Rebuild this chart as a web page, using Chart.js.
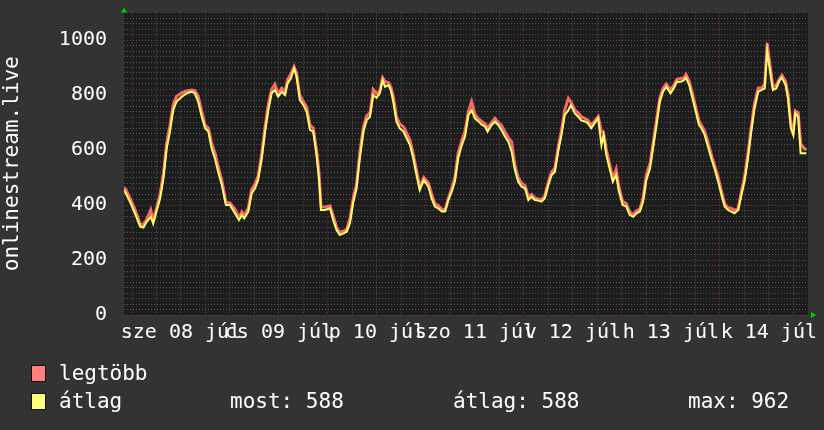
<!DOCTYPE html>
<html>
<head>
<meta charset="utf-8">
<script src="https://cdn.jsdelivr.net/npm/chart.js@4"></script>
<style>
body { margin: 0; background: #333333; }
#wrap { position: relative; width: 824px; height: 430px; background: #333333; font-family: 'DejaVu Sans Mono', monospace; color: #ffffff; }
#c { position: absolute; left: 0; top: 0; }
.leg { position: absolute; font-size: 21px; line-height: 21px; white-space: pre; }
.sw { position: absolute; width: 13px; height: 15px; border: 1px solid #111; }
</style>
</head>
<body>
<div id="wrap">
  <canvas id="c" width="824" height="430"></canvas>
  <div class="sw" style="left:31px;top:365px;background:#ff7f7f"></div>
  <div class="leg" style="left:59px;top:363px" id="l1"></div>
  <div class="sw" style="left:31px;top:393px;background:#ffff7f"></div>
  <div class="leg" style="left:59px;top:391px" id="l2"></div>
  <div class="leg" style="left:230px;top:391px" id="l3"></div>
  <div class="leg" style="left:453px;top:391px" id="l4"></div>
  <div class="leg" style="left:688px;top:391px" id="l5"></div>
</div>
<script>
// hours since midnight of 08 jul
const hours = [-2.0,-1.5,-0.5,0.7,2.0,2.8,3.6,4.6,5.2,6.0,6.9,7.7,8.5,9.3,10.1,10.9,12.2,13.4,14.6,15.4,16.2,17.1,17.9,18.7,19.5,20.3,21.1,22.0,23.0,24.0,
  25.2,26.2,26.9,27.5,28.5,29.3,30.1,30.9,31.8,32.6,33.4,34.2,35.0,35.8,36.7,37.5,38.1,38.9,39.7,40.3,41.1,42.0,42.8,43.6,44.4,45.2,45.8,46.3,47.3,48.5,
  49.3,50.1,50.9,51.8,52.6,53.4,54.2,55.0,55.8,56.7,57.5,58.3,59.1,59.9,60.7,61.4,62.0,62.8,63.4,64.0,64.8,65.6,66.5,67.3,68.1,68.9,69.7,70.5,71.5,72.6,
  73.4,74.2,75.0,75.9,76.7,77.5,78.3,79.1,79.9,80.8,81.6,82.4,83.2,84.0,84.8,85.6,86.5,87.1,88.1,88.9,89.7,90.5,91.4,92.2,93.0,93.8,94.6,95.4,96.3,97.1,
  97.9,98.7,99.5,100.3,101.1,102.0,102.8,103.6,104.4,105.2,106.0,106.9,107.5,108.5,109.3,110.1,110.9,111.7,112.5,113.3,114.2,115.0,115.5,116.2,117.0,117.8,118.6,119.3,120.2,121.1,
  121.9,122.8,123.6,124.4,125.2,126.0,126.9,127.7,128.5,129.3,130.1,130.9,131.9,132.7,133.5,134.4,135.2,135.7,136.5,137.3,138.1,138.9,139.5,140.3,141.1,141.9,142.8,143.6,144.4,145.2,
  146.0,146.8,147.6,148.5,149.3,150.1,150.9,151.7,152.5,153.4,154.2,155.0,155.6,156.2,157.0,157.8,158.7,159.2,160.1,160.7,161.4,162.0,162.5,163.2,163.8,164.4,165.2];

const atlag = [455,442,412,370,321,318,339,357,333,376,424,497,606,667,745,776,794,806,812,806,776,721,679,667,606,570,521,473,400,400,
  370,345,363,351,376,442,460,491,570,667,745,806,818,794,812,800,842,860,897,867,782,763,739,673,667,582,497,382,382,388,
  345,309,291,297,303,335,410,460,570,667,709,721,800,790,806,854,830,836,818,776,703,679,667,642,618,570,509,454,491,467,
  424,394,388,376,376,418,448,485,570,618,650,727,745,715,705,693,685,667,691,703,691,673,648,630,594,527,485,467,460,418,
  430,418,416,412,424,473,509,521,594,654,727,745,763,733,721,707,704,697,679,697,715,618,654,582,533,485,509,448,400,394,
  364,357,370,376,412,491,533,612,691,776,812,830,806,824,848,848,854,863,836,788,740,691,679,654,612,570,527,485,436,394,
  382,376,370,382,436,491,570,667,751,812,818,824,962,897,818,824,854,863,836,788,679,654,733,721,588,588,588];

const legtobb = [465,455,425,385,330,328,348,382,342,388,440,515,625,690,765,795,808,815,818,816,795,740,690,680,625,590,540,490,410,408,
  385,355,375,360,390,455,475,505,590,685,765,820,839,805,825,812,855,875,903,880,800,775,755,690,680,600,520,395,392,397,
  360,320,300,305,312,350,425,475,590,685,725,735,820,805,815,863,848,845,830,795,720,695,685,660,635,585,525,465,500,480,
  440,405,398,385,382,425,460,500,590,635,670,740,776,730,715,705,695,680,700,715,700,690,665,645,630,545,500,480,470,430,
  438,425,422,420,432,485,520,535,610,670,745,788,775,745,735,720,715,708,690,705,722,667,665,600,550,495,530,465,412,405,
  375,365,378,385,425,510,550,630,710,790,825,840,818,835,858,860,862,875,850,805,755,705,690,668,628,585,540,500,450,405,
  390,388,380,388,450,505,590,685,770,825,826,840,988,920,830,835,862,872,850,805,695,670,742,735,624,610,600];

const dayLabels = ['sze 08 júl', 'cs 09 júl', 'p 10 júl', 'szo 11 júl', 'v 12 júl', 'h 13 júl', 'k 14 júl'];
const legendTexts = ['legtöbb', 'átlag', 'most: 588', 'átlag: 588', 'max: 962'];

['l1', 'l2', 'l3', 'l4', 'l5'].forEach(function (id, i) {
    document.getElementById(id).textContent = legendTexts[i];
});

const gridMinor = '#525252';
const gridMajor = '#7e3434';
const font = { family: 'DejaVu Sans Mono', size: 20 };

// plot background + the green axis arrows
const arrows = {
    id: 'arrows',
    beforeDraw(chart) {
        const a = chart.chartArea, ctx = chart.ctx;
        ctx.save();
        ctx.fillStyle = '#1d1d1d';
        ctx.fillRect(a.left, a.top, a.right - a.left, a.bottom - a.top);
        ctx.restore();
    },
    afterDraw(chart) {
        const a = chart.chartArea, ctx = chart.ctx;
        ctx.save();
        ctx.fillStyle = '#00cc00';
        ctx.beginPath();
        ctx.moveTo(a.left - 3, a.top);
        ctx.lineTo(a.left + 3, a.top);
        ctx.lineTo(a.left, a.top - 5);
        ctx.closePath();
        ctx.fill();
        ctx.beginPath();
        ctx.moveTo(a.right + 3, a.bottom - 3);
        ctx.lineTo(a.right + 3, a.bottom + 3);
        ctx.lineTo(a.right + 8, a.bottom);
        ctx.closePath();
        ctx.fill();
        ctx.restore();
    }
};

const ctx = document.getElementById('c').getContext('2d');
new Chart(ctx, {
    type: 'line',
    data: {
        datasets: [{
            label: 'átlag',
            data: hours.map(function (h, i) { return { x: h, y: atlag[i] }; }),
            borderColor: '#ffff66',
            borderWidth: 2,
            pointRadius: 0,
            tension: 0,
            order: 0
        }, {
            label: 'legtöbb',
            data: hours.map(function (h, i) { return { x: h, y: legtobb[i] }; }),
            borderColor: '#f86a6a',
            borderWidth: 3,
            pointRadius: 0,
            tension: 0,
            order: 1
        }]
    },
    options: {
        responsive: false,
        animation: false,
        layout: { padding: { left: 0, top: 12.5, right: 16, bottom: 75 } },
        plugins: { legend: { display: false }, tooltip: { enabled: false } },
        scales: {
            x: {
                type: 'linear',
                min: -1.96,
                max: 165.6,
                afterBuildTicks: function (scale) {
                    const t = [];
                    for (let v = 0; v <= 162; v += 6) t.push({ value: v });
                    scale.ticks = t;
                },
                afterFit: function (scale) {
                    scale.height = 40;
                    scale.paddingLeft = 0;
                    scale.paddingRight = 0;
                },
                ticks: {
                    autoSkip: false,
                    maxRotation: 0,
                    color: '#ffffff',
                    font: font,
                    padding: 6,
                    callback: function (v) {
                        return (v % 24 === 12) ? dayLabels[(v - 12) / 24] : '';
                    }
                },
                grid: {
                    drawTicks: false,
                    color: function (c) { return (c.tick && c.tick.value % 24 === 0) ? gridMajor : gridMinor; }
                },
                border: { display: false, dash: [1, 2] }
            },
            y: {
                min: 0,
                max: 1100,
                afterBuildTicks: function (scale) {
                    const t = [];
                    for (let v = 0; v <= 1100; v += 20) t.push({ value: v });
                    scale.ticks = t;
                },
                afterFit: function (scale) {
                    scale.width = 124;
                    scale.paddingTop = 0;
                    scale.paddingBottom = 0;
                },
                ticks: {
                    autoSkip: false,
                    color: '#ffffff',
                    font: font,
                    padding: 17,
                    callback: function (v) {
                        return (v % 200 === 0 && v <= 1000) ? String(v) : '';
                    }
                },
                title: {
                    display: true,
                    text: 'onlinestream.live',
                    color: '#ffffff',
                    font: { family: 'DejaVu Sans Mono', size: 21 },
                    padding: { top: 0, bottom: 0 }
                },
                grid: {
                    drawTicks: false,
                    color: function (c) { return (c.tick && c.tick.value % 200 === 0) ? gridMajor : gridMinor; }
                },
                border: { display: false, dash: [1, 2] }
            }
        }
    },
    plugins: [arrows]
});
</script>
</body>
</html>
